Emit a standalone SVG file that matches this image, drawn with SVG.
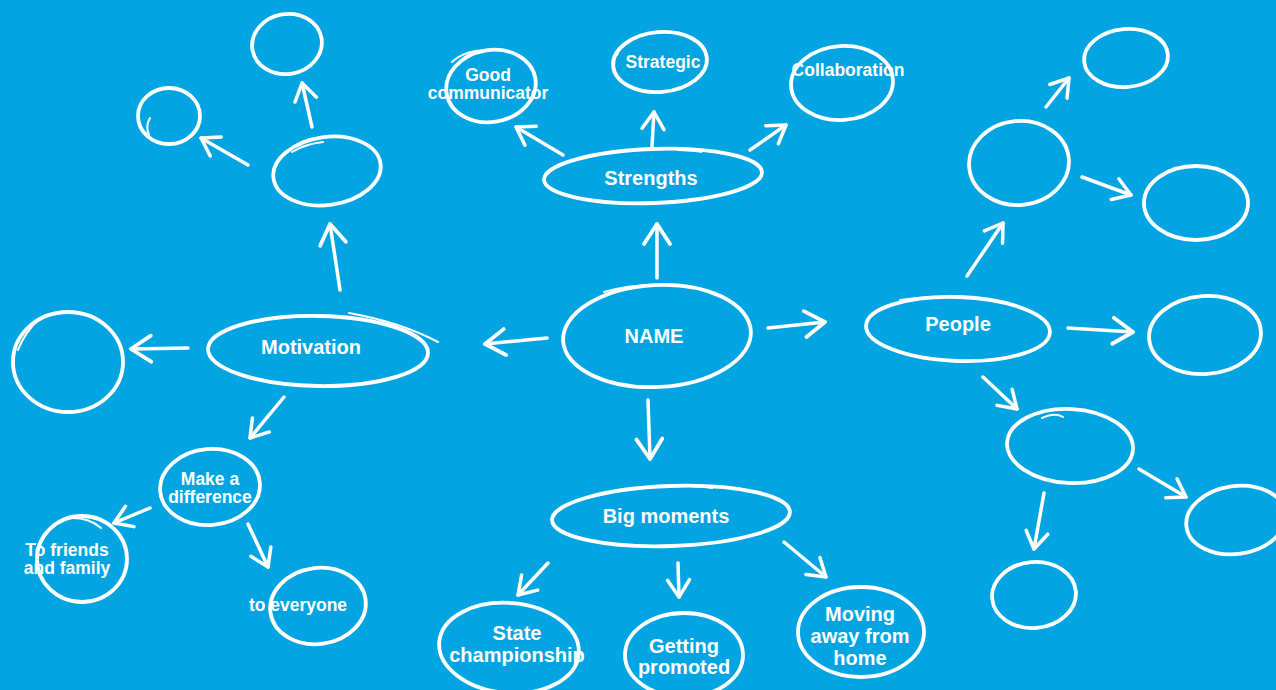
<svg xmlns="http://www.w3.org/2000/svg" width="1276" height="690" viewBox="0 0 1276 690">
<style>
.n{fill:none;stroke:#fff;stroke-width:3.8;stroke-linecap:round}
.t{fill:none;stroke:#fff;stroke-width:2;stroke-linecap:round}
.c line{stroke:#fff;stroke-width:3.5;stroke-linecap:round}
.b{marker-end:url(#hb)}
.s{marker-end:url(#hs)}
text{font-family:"Liberation Sans",Arial,sans-serif;font-weight:bold;fill:#fff;text-anchor:middle}
.f20{font-size:20px}
.f17{font-size:17.5px}
</style>
<defs>
<marker id="hb" viewBox="-24 -17 28 34" refX="0" refY="0" markerWidth="28" markerHeight="34" markerUnits="userSpaceOnUse" orient="auto">
<path d="M-20,-13 L0,0 L-20,13" fill="none" stroke="#fff" stroke-width="3.8" stroke-linecap="round" stroke-linejoin="round"/>
</marker>
<marker id="hs" viewBox="-21 -15 24 30" refX="0" refY="0" markerWidth="24" markerHeight="30" markerUnits="userSpaceOnUse" orient="auto">
<path d="M-17,-11 L0,0 L-17,11" fill="none" stroke="#fff" stroke-width="3.5" stroke-linecap="round" stroke-linejoin="round"/>
</marker>
</defs>
<rect width="1276" height="690" fill="#02A5E1"/>

<g id="connectors" class="c">
<line class="b" x1="657" y1="278" x2="657" y2="224"/>
<line class="b" x1="547" y1="338" x2="485" y2="344"/>
<line class="b" x1="768" y1="328" x2="825" y2="322"/>
<line class="b" x1="648" y1="400" x2="650" y2="459"/>
<line class="s" x1="563" y1="155" x2="516" y2="127"/>
<line class="s" x1="652" y1="146" x2="654" y2="112"/>
<line class="s" x1="750" y1="150" x2="786" y2="125"/>
<line class="b" x1="340" y1="290" x2="330" y2="224"/>
<line class="b" x1="188" y1="348" x2="131" y2="349"/>
<line class="s" x1="284" y1="397" x2="250" y2="438"/>
<line class="s" x1="312" y1="127" x2="302" y2="83"/>
<line class="s" x1="248" y1="165" x2="201" y2="138"/>
<line class="s" x1="150" y1="508" x2="114" y2="523"/>
<line class="s" x1="248" y1="524" x2="268" y2="567"/>
<line class="s" x1="548" y1="563" x2="518" y2="595"/>
<line class="s" x1="678" y1="563" x2="679" y2="597"/>
<line class="s" x1="784" y1="542" x2="826" y2="577"/>
<line class="s" x1="967" y1="276" x2="1003" y2="223"/>
<line class="b" x1="1068" y1="328" x2="1133" y2="332"/>
<line class="s" x1="983" y1="377" x2="1017" y2="409"/>
<line class="s" x1="1046" y1="107" x2="1069" y2="78"/>
<line class="s" x1="1082" y1="177" x2="1131" y2="195"/>
<line class="s" x1="1044" y1="493" x2="1034" y2="549"/>
<line class="s" x1="1139" y1="469" x2="1186" y2="497"/>
</g>

<g id="name">
<ellipse class="n" cx="657" cy="336" rx="94" ry="51" transform="rotate(-3 657 336)"/>
<path class="t" d="M604,292 Q630,284 662,285"/>
<text class="f20" x="654" y="343">NAME</text>
</g>
<g id="strengths">
<ellipse class="n" cx="653" cy="176" rx="109" ry="27" transform="rotate(-2 653 176)"/>
<path class="t" d="M678,150 Q700,151 701,152"/>
<text class="f20" x="651" y="185">Strengths</text>
</g>
<g id="good-communicator">
<ellipse class="n" cx="491" cy="86" rx="45" ry="36" transform="rotate(-10 491 86)"/>
<path class="t" d="M452,62 Q465,50 488,50"/>
<text class="f17" x="488" y="81">Good</text>
<text class="f17" x="488" y="99">communicator</text>
</g>
<g id="strategic">
<ellipse class="n" cx="660" cy="62" rx="47" ry="30" transform="rotate(-5 660 62)"/>
<path class="t" d="M617,55 Q622,40 637,38"/>
<text class="f17" x="663" y="68">Strategic</text>
</g>
<g id="collaboration">
<ellipse class="n" cx="842" cy="83" rx="51" ry="37" transform="rotate(-4 842 83)"/>
<text class="f17" x="848" y="76">Collaboration</text>
</g>
<g id="motivation">
<ellipse class="n" cx="318" cy="351" rx="110" ry="35" transform="rotate(1 318 351)"/>
<path class="t" d="M349,313 Q400,322 438,342"/>
<text class="f20" x="311" y="354">Motivation</text>
</g>
<g id="motivation-up">
<ellipse class="n" cx="327" cy="171" rx="54" ry="34" transform="rotate(-8 327 171)"/>
<path class="t" d="M292,152 Q305,144 323,142"/>
</g>
<g id="motivation-up-top">
<ellipse class="n" cx="287" cy="44" rx="35" ry="30" transform="rotate(-10 287 44)"/>
</g>
<g id="motivation-up-left">
<ellipse class="n" cx="169" cy="116" rx="31" ry="28"/>
<path class="t" d="M150,118 Q145,126 149,135"/>
</g>
<g id="motivation-left">
<ellipse class="n" cx="68" cy="362" rx="55" ry="50"/>
<path class="t" d="M40,318 Q25,332 18,350"/>
</g>
<g id="make-a-difference">
<ellipse class="n" cx="210" cy="487" rx="50" ry="38" transform="rotate(-5 210 487)"/>
<text class="f17" x="210" y="485">Make a</text>
<text class="f17" x="210" y="503">difference</text>
</g>
<g id="friends-family">
<ellipse class="n" cx="82" cy="559" rx="45" ry="43"/>
<path class="t" d="M72,518 Q90,518 101,528"/>
<text class="f17" x="67" y="556">To friends</text>
<text class="f17" x="67" y="574">and family</text>
</g>
<g id="to-everyone">
<ellipse class="n" cx="318" cy="606" rx="48" ry="38" transform="rotate(-8 318 606)"/>
<text class="f17" x="298" y="611">to everyone</text>
</g>
<g id="big-moments">
<ellipse class="n" cx="671" cy="516" rx="119" ry="30" transform="rotate(-2 671 516)"/>
<path class="t" d="M670,485 Q700,486 712,488"/>
<text class="f20" x="666" y="523">Big moments</text>
</g>
<g id="state-championship">
<ellipse class="n" cx="509" cy="648" rx="70" ry="45" transform="rotate(5 509 648)"/>
<text class="f20" x="517" y="640">State</text>
<text class="f20" x="517" y="662">championship</text>
</g>
<g id="getting-promoted">
<ellipse class="n" cx="684" cy="655" rx="59" ry="42"/>
<path class="t" d="M668,615 Q690,612 708,616"/>
<text class="f20" x="684" y="653">Getting</text>
<text class="f20" x="684" y="674">promoted</text>
</g>
<g id="moving-away">
<ellipse class="n" cx="861" cy="632" rx="63" ry="45"/>
<text class="f20" x="860" y="621">Moving</text>
<text class="f20" x="860" y="643">away from</text>
<text class="f20" x="860" y="665">home</text>
</g>
<g id="people">
<ellipse class="n" cx="958" cy="329" rx="92" ry="32" transform="rotate(2 958 329)"/>
<path class="t" d="M900,300 Q930,296 966,297"/>
<text class="f20" x="958" y="331">People</text>
</g>
<g id="people-up">
<ellipse class="n" cx="1019" cy="163" rx="50" ry="42" transform="rotate(-5 1019 163)"/>
</g>
<g id="people-up-top">
<ellipse class="n" cx="1126" cy="58" rx="42" ry="29" transform="rotate(-5 1126 58)"/>
</g>
<g id="people-up-right">
<ellipse class="n" cx="1196" cy="203" rx="52" ry="37"/>
</g>
<g id="people-right">
<ellipse class="n" cx="1205" cy="335" rx="56" ry="39" transform="rotate(-4 1205 335)"/>
</g>
<g id="people-down">
<ellipse class="n" cx="1070" cy="446" rx="63" ry="37" transform="rotate(3 1070 446)"/>
<path class="t" d="M1042,418 Q1055,412 1063,417"/>
</g>
<g id="people-down-bottom">
<ellipse class="n" cx="1034" cy="595" rx="42" ry="33" transform="rotate(-5 1034 595)"/>
</g>
<g id="people-down-right">
<ellipse class="n" cx="1236" cy="520" rx="50" ry="34" transform="rotate(-8 1236 520)"/>
</g>
</svg>
